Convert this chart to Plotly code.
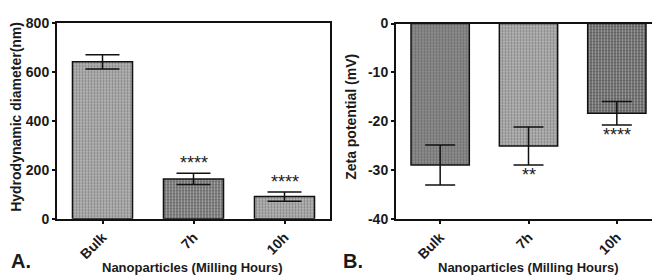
import plotly.graph_objects as go

categories = ["Bulk", "7h", "10h"]
diameter = [640, 162, 90]
diameter_err = [29, 23, 19]
zeta = [-29.0, -25.1, -18.4]
zeta_err = [4.1, 3.9, 2.4]
sig_a = ["", "****", "****"]
sig_b = ["", "**", "****"]
yticks_a = [0, 200, 400, 600, 800]
yticks_b = [-40, -30, -20, -10, 0]
yticklabels_b = ["-40", "-30", "-20", "-10", "0"]

colors_a = ["#b4b4b4", "#6a6a6a", "#b4b4b4"]
colors_b = ["#8c8c8c", "#b4b4b4", "#5e5e5e"]

FONT = "Liberation Sans"
TXT = "#1a1a1a"

fig = go.Figure()

fig.add_trace(go.Bar(
    x=categories, y=diameter, xaxis="x", yaxis="y",
    marker=dict(color=colors_a, line=dict(color="#111", width=1.5),
                pattern=dict(shape=".", fgcolor="#222", size=3, solidity=0.35)),
    error_y=dict(type="data", array=diameter_err, color="#111", thickness=1.5, width=17),
    showlegend=False,
))
fig.add_trace(go.Bar(
    x=categories, y=zeta, xaxis="x2", yaxis="y2",
    marker=dict(color=colors_b, line=dict(color="#111", width=1.5),
                pattern=dict(shape=".", fgcolor="#222", size=3, solidity=0.35)),
    error_y=dict(type="data", array=zeta_err, color="#111", thickness=1.5, width=15),
    showlegend=False,
))

annotations = []
for c, v, e, s in zip(categories, diameter, diameter_err, sig_a):
    if s:
        annotations.append(dict(x=c, y=v + e, xref="x", yref="y", text=s, showarrow=False,
                                yanchor="bottom", yshift=-2,
                                font=dict(family=FONT, size=18, color=TXT)))
for c, v, e, s in zip(categories, zeta, zeta_err, sig_b):
    if s:
        annotations.append(dict(x=c, y=v - e, xref="x2", yref="y2", text=s, showarrow=False,
                                yanchor="top", yshift=2,
                                font=dict(family=FONT, size=18, color=TXT)))

annotations += [
    dict(x=1 / 660, y=1 - 260 / 279, xref="paper", yref="paper", text="<b>A.</b>", showarrow=False,
         xanchor="left", yanchor="middle", font=dict(family=FONT, size=20, color=TXT)),
    dict(x=333 / 660, y=1 - 260 / 279, xref="paper", yref="paper", text="<b>B.</b>", showarrow=False,
         xanchor="left", yanchor="middle", font=dict(family=FONT, size=20, color=TXT)),
    dict(x=185 / 660, y=1 - 267 / 279, xref="paper", yref="paper", text="<b>Nanoparticles (Milling Hours)</b>",
         showarrow=False, xanchor="center", yanchor="middle", font=dict(family=FONT, size=13, color=TXT)),
    dict(x=520 / 660, y=1 - 267 / 279, xref="paper", yref="paper", text="<b>Nanoparticles (Milling Hours)</b>",
         showarrow=False, xanchor="center", yanchor="middle", font=dict(family=FONT, size=13, color=TXT)),
    dict(x=8 / 660, y=1 - 107 / 279, xref="paper", yref="paper", text="<b>Hydrodynamic diameter(nm)</b>",
         showarrow=False, textangle=-90, xanchor="center", yanchor="middle", font=dict(family=FONT, size=14, color=TXT)),
    dict(x=343 / 660, y=1 - 107 / 279, xref="paper", yref="paper", text="<b>Zeta potential (mV)</b>",
         showarrow=False, textangle=-90, xanchor="center", yanchor="middle", font=dict(family=FONT, size=14, color=TXT)),
]

axis_common = dict(showline=True, linecolor="#111", linewidth=2, mirror=True, showgrid=False,
                   zeroline=False, ticks="outside", tickcolor="#111", tickwidth=2, ticklen=3,
                   ticklabeloverflow="allow",
                   tickfont=dict(family=FONT, size=14, color=TXT))

fig.update_layout(
    width=660, height=279,
    margin=dict(l=0, r=0, t=0, b=0),
    paper_bgcolor="white", plot_bgcolor="white",
    bargap=0.34,
    annotations=annotations,
    xaxis=dict(domain=[49 / 660, 322 / 660], anchor="y", tickangle=-45,
               tickprefix="<b>", ticksuffix="</b>", **axis_common),
    yaxis=dict(domain=[1 - 215 / 279, 1 - 7 / 279], anchor="x", range=[0, 800],
               tickvals=yticks_a, ticktext=[f"<b>{v}</b>" for v in yticks_a], **axis_common),
    xaxis2=dict(domain=[388 / 660, 653 / 660], anchor="y2", tickangle=-45,
                tickprefix="<b>", ticksuffix="</b>", **axis_common),
    yaxis2=dict(domain=[1 - 215 / 279, 1 - 8 / 279], anchor="x2", range=[-40, 0],
                tickvals=yticks_b, ticktext=[f"<b>{t}</b>" for t in yticklabels_b], **axis_common),
)

fig.write_html("out.html")
